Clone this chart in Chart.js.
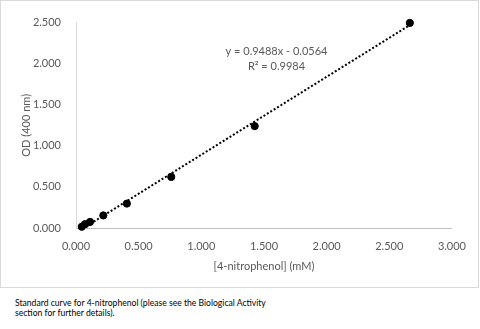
<!DOCTYPE html>
<html><head><meta charset="utf-8">
<script src="https://cdn.jsdelivr.net/npm/chart.js@4"></script>
<style>
html,body{margin:0;padding:0;background:#fff;}
#box{position:absolute;left:0;top:0;width:477px;height:286px;border:1px solid #d9d9d9;}
#c{display:block;}
#cap{position:absolute;left:15px;top:298px;font-family:Lato,sans-serif;font-size:8.6px;line-height:10px;color:#000;width:330px;}
</style></head><body>
<div id="box"><canvas id="c" width="477" height="286"></canvas></div>
<div id="cap">Standard curve for 4-nitrophenol (please see the Biological Activity<br>section for further details).</div>
<script>
const concentration = [0.046, 0.072, 0.112, 0.218, 0.406, 0.760, 1.426, 2.664];
const od = [0.015, 0.047, 0.074, 0.153, 0.297, 0.622, 1.240, 2.496];
const trendX = [0.06, 2.664];
const trendY = [0.0, 2.470];
const xTicks = [0, 0.5, 1, 1.5, 2, 2.5, 3];
const yTicks = [0, 0.5, 1, 1.5, 2, 2.5];
const equationText = ["y = 0.9488x - 0.0564", "R\u00b2 = 0.9984"];
const xTitle = "[4-nitrophenol] (mM)";
const yTitle = "OD (400 nm)";

const font = {family: 'Lato, sans-serif', size: 11};
const grey = '#595959';

const annot = {
  id: 'annot',
  afterDatasetsDraw(chart) {
    const {ctx, scales} = chart;
    const cx = scales.x.getPixelForValue(1.6);
    const cy = scales.y.getPixelForValue(2.15);
    ctx.save();
    ctx.font = '11px Lato, sans-serif';
    ctx.fillStyle = grey;
    ctx.textAlign = 'center';
    ctx.textBaseline = 'middle';
    ctx.fillText(equationText[0], cx, cy);
    ctx.fillText(equationText[1], cx, cy + 15);
    ctx.restore();
  }
};

new Chart(document.getElementById('c'), {
  type: 'scatter',
  data: {
    datasets: [
      {
        type: 'line',
        data: trendX.map((x, i) => ({x, y: trendY[i]})),
        borderColor: '#000',
        borderWidth: 2,
        borderDash: [2, 2],
        pointRadius: 0,
        fill: false,
        clip: false,
        order: 2
      },
      {
        data: concentration.map((x, i) => ({x, y: od[i]})),
        backgroundColor: '#000',
        borderColor: '#000',
        pointRadius: 3.6,
        pointHoverRadius: 3.6,
        clip: false,
        order: 1
      }
    ]
  },
  options: {
    responsive: false,
    animation: false,
    events: [],
    layout: {padding: {top: 14, right: 26, left: 0, bottom: 0}},
    plugins: {legend: {display: false}, tooltip: {enabled: false}},
    scales: {
      x: {
        type: 'linear', min: 0, max: 3,
        afterBuildTicks(s) { s.ticks = xTicks.map(v => ({value: v})); },
        afterFit(s) { s.height = 59; },
        ticks: {color: grey, font, padding: 12, callback: v => v.toFixed(3), maxRotation: 0},
        grid: {display: false, drawTicks: false},
        border: {color: '#bfbfbf', width: 1},
        title: {display: true, text: xTitle, color: grey, font, padding: {top: 0, bottom: 14}}
      },
      y: {
        type: 'linear', min: 0, max: 2.5,
        afterBuildTicks(s) { s.ticks = yTicks.map(v => ({value: v})); },
        afterFit(s) { s.width = 75; },
        ticks: {color: grey, font, padding: 15, callback: v => v.toFixed(3)},
        grid: {display: false, drawTicks: false},
        border: {color: '#d9d9d9', width: 1},
        title: {display: true, text: yTitle, color: grey, font, padding: {top: 19, bottom: 19}}
      }
    }
  },
  plugins: [annot]
});
</script>
</body></html>
